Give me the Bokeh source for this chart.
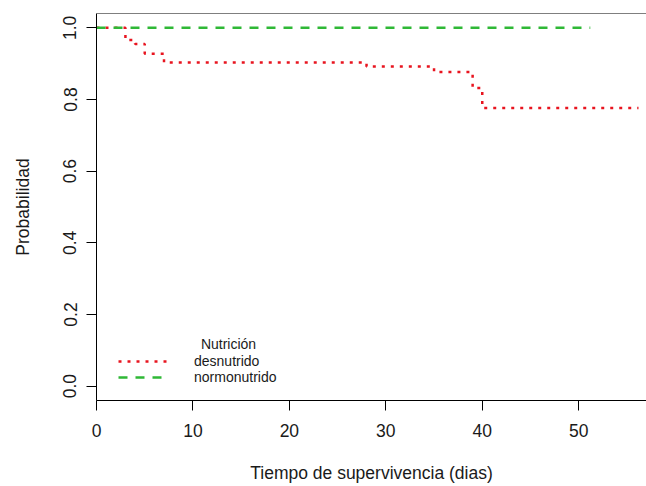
from bokeh.plotting import figure
from bokeh.models import (Range1d, FixedTicker, Span, Legend, LegendItem, Label,
                          PrintfTickFormatter)
from bokeh.embed import file_html
from bokeh.resources import INLINE

# ---- data (Kaplan-Meier step curves) ----
time_desnutrido = [0, 3, 4, 5, 7, 28, 35, 39, 40, 56.2]
surv_desnutrido = [1.0, 0.966, 0.955, 0.928, 0.903, 0.892, 0.877, 0.832, 0.776, 0.776]
time_normonutrido = [0, 51.2]
surv_normonutrido = [1.0, 1.0]
x_ticks = [0, 10, 20, 30, 40, 50]
y_ticks = [0.0, 0.2, 0.4, 0.6, 0.8, 1.0]
legend_title = "Nutrición"
group_labels = ["desnutrido", "normonutrido"]
x_label = "Tiempo de supervivencia (dias)"
y_label = "Probabilidad"

FONT = "Liberation Sans"
RED = "#e8141f"
GREEN = "#2fb836"
TXT = "#1a1a1a"

p = figure(width=646, height=486, output_backend="svg", toolbar_location=None,
           x_range=Range1d(0, 57.03), y_range=Range1d(-0.04, 1.04),
           min_border_left=96, min_border_right=0, min_border_top=13,
           min_border_bottom=86)
p.outline_line_color = None
p.grid.visible = False
p.background_fill_color = "white"
p.border_fill_color = "white"

r1 = p.step(time_desnutrido, surv_desnutrido, mode="after", line_color=RED,
            line_width=2.5, line_dash="3 6")
r2 = p.step(time_normonutrido, surv_normonutrido, mode="after", line_color=GREEN,
            line_width=2.5, line_dash="9 8")

# top border of the box
p.add_layout(Span(location=1.04, dimension="width", line_color="black", line_width=1))

p.xaxis.ticker = FixedTicker(ticks=x_ticks)
p.yaxis.ticker = FixedTicker(ticks=y_ticks)
p.yaxis.formatter = PrintfTickFormatter(format="%.1f")
p.xaxis.axis_label = x_label
p.yaxis.axis_label = y_label
for ax in (p.xaxis[0], p.yaxis[0]):
    ax.major_tick_out = 10
    ax.major_tick_in = 0
    ax.minor_tick_out = 0
    ax.minor_tick_in = 0
    ax.axis_line_color = "black"
    ax.major_tick_line_color = "black"
    ax.major_label_text_font = FONT
    ax.major_label_text_font_size = "17.5px"
    ax.major_label_text_color = TXT
    ax.axis_label_text_font = FONT
    ax.axis_label_text_font_size = "17.5px"
    ax.axis_label_text_font_style = "normal"
    ax.axis_label_text_color = TXT
p.yaxis.major_label_orientation = "vertical"
p.xaxis.major_label_standoff = 13
p.xaxis.axis_label_standoff = 23
p.yaxis.major_label_standoff = 10
p.yaxis.axis_label_standoff = 28

legend = Legend(items=[LegendItem(label=group_labels[0], renderers=[r1]),
                       LegendItem(label=group_labels[1], renderers=[r2])],
                location=(22, 15), padding=0, margin=0, spacing=0,
                glyph_width=50, glyph_height=14, label_height=14,
                label_standoff=26, label_text_font=FONT,
                label_text_font_size="14px", label_text_color=TXT,
                border_line_color=None, background_fill_alpha=0)
p.add_layout(legend)

p.add_layout(Label(x=132, y=57, x_units="screen", y_units="screen",
                   text=legend_title, text_align="center", text_baseline="middle",
                   text_font=FONT, text_font_size="14px", text_color=TXT))

open("out.html", "w").write(file_html(p, INLINE))
